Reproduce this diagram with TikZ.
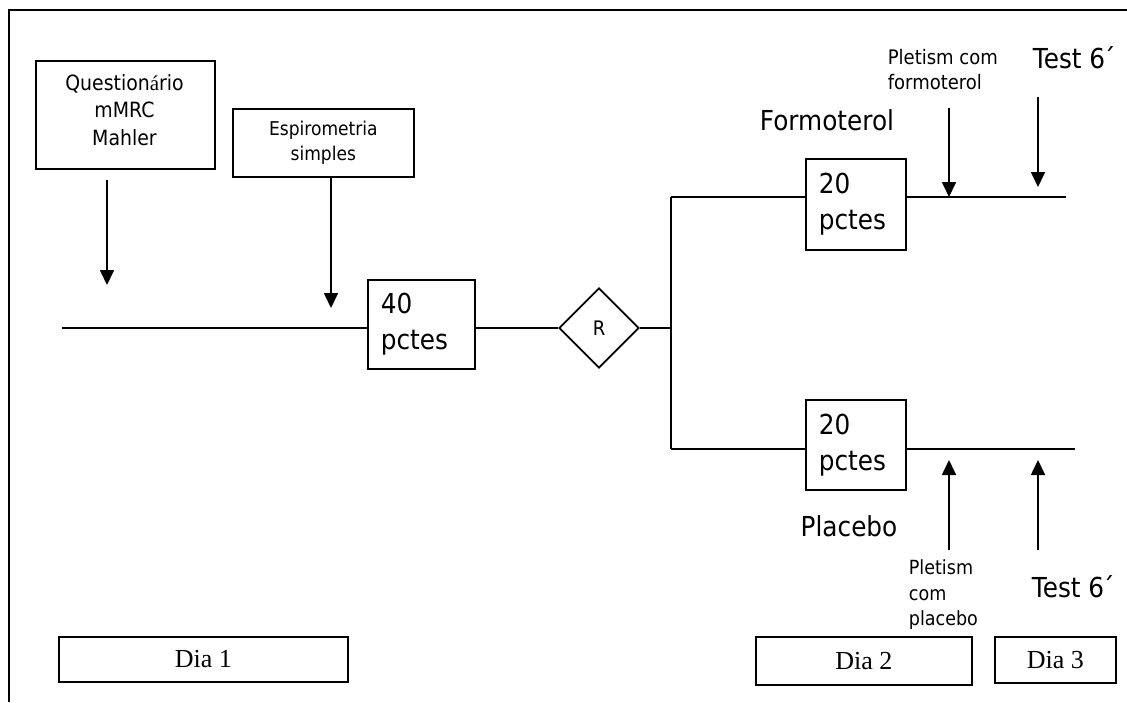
\documentclass[tikz,border=0pt]{standalone}
\usepackage{fontspec}
\setmainfont{DejaVu Sans}[FakeStretch=0.9]
\newfontfamily\timesf{Liberation Serif}
\usetikzlibrary{shapes.geometric,arrows.meta}
\begin{document}
\begin{tikzpicture}[x=1pt,y=-1pt,line width=1.7pt,
  bigtxt/.style={font=\fontsize{27.5}{36}\selectfont},
  pbox/.style={draw,rectangle,anchor=north west,inner xsep=13pt,inner ysep=0pt,align=left,bigtxt},
  tbox/.style={draw,rectangle,anchor=north west,inner sep=0pt,align=center},
  diabox/.style={draw,rectangle,anchor=north west,inner sep=0pt,line width=1.6pt,font=\timesf\fontsize{26}{30}\selectfont},
  smalltxt/.style={font=\fontsize{20}{25}\selectfont,align=left,inner sep=0pt},
  arr/.style={-{Triangle[length=15pt,width=14pt]}},
  lbl/.style={inner sep=0pt}]
\useasboundingbox (0,0) rectangle (1127,702);
% frame
\coordinate (fr1) at (9,702);
\coordinate (fr2) at (9,10);
\coordinate (fr3) at (1127,10);
\draw (fr1) -- (fr2) -- (fr3);

% top-left boxes
\node[tbox,minimum width=179pt,minimum height=108pt] (q) at (35,60) {};
\node[lbl,align=center,font=\fontsize{21}{27.5}\selectfont] (qt) at (124.5,110)
  {Question{\timesf á}rio\\mMRC\\Mahler};
\node[tbox,minimum width=181pt,minimum height=68pt,font=\fontsize{19}{25}\selectfont] (esp) at (232,108)
  {Espirometria\\simples};

% arrows to timeline
\coordinate (a1s) at (107,180);
\coordinate (a1e) at (107,285);
\draw[arr] (a1s) -- (a1e);
\coordinate (a2s) at (331,178);
\coordinate (a2e) at (331,308);
\draw[arr] (a2s) -- (a2e);

% main line
\coordinate (l0) at (62,328);
\node[pbox,text width=81pt,minimum height=89pt] (b40) at (367,279) {40\\pctes};
\node[draw,diamond,aspect=1,inner sep=0pt,minimum width=80pt,minimum height=80pt,font=\fontsize{20}{22}\selectfont] (dia) at (599,328) {R};
\coordinate (split) at (671,328);
\coordinate (vtop) at (671,197);
\coordinate (vbot) at (671,449);
\draw (l0) -- (l0 -| b40.west);
\draw (b40.east |- dia) -- (dia.west);
\draw (dia.east) -- (split);
\draw (vtop) -- (vbot);

% top branch
\node[pbox,text width=74pt,minimum height=91pt] (b20a) at (805,158) {20\\pctes};
\coordinate (tend) at (1066,197);
\draw (vtop) -- (vtop -| b20a.west);
\draw (b20a.east |- vtop) -- (tend);
\node[lbl,bigtxt] (form) at (827,120) {Formoterol};
\node[smalltxt,anchor=west] (plf) at (887,70) {Pletism com\\formoterol};
\node[lbl,bigtxt,anchor=west] (t6a) at (1032,58) {Test 6\kern-2pt´};
\coordinate (p1s) at (949,108);
\coordinate (p1e) at (949,197);
\draw[arr] (p1s) -- (p1e);
\coordinate (t1s) at (1038,97);
\coordinate (t1e) at (1038,187);
\draw[arr] (t1s) -- (t1e);

% bottom branch
\node[pbox,text width=74pt,minimum height=90pt] (b20b) at (805,399) {20\\pctes};
\coordinate (bend) at (1075,449);
\draw (vbot) -- (vbot -| b20b.west);
\draw (b20b.east |- vbot) -- (bend);
\node[lbl,bigtxt] (plac) at (849,526) {Placebo};
\node[smalltxt,anchor=west,font=\fontsize{19.5}{25.5}\selectfont] (plp) at (908,595) {Pletism\\com\\placebo};
\node[lbl,bigtxt,anchor=west] (t6b) at (1031,587) {Test 6\kern-2pt´};
\coordinate (p2s) at (949,550);
\coordinate (p2e) at (949,460);
\draw[arr] (p2s) -- (p2e);
\coordinate (t2s) at (1038,550);
\coordinate (t2e) at (1038,460);
\draw[arr] (t2s) -- (t2e);

% day boxes
\node[diabox,minimum width=289pt,minimum height=45pt] (d1) at (58,636) {Dia 1};
\node[diabox,minimum width=216pt,minimum height=48pt] (d2) at (755,636) {Dia 2};
\node[diabox,minimum width=121pt,minimum height=46pt] (d3) at (994,636) {Dia 3};
\end{tikzpicture}
\end{document}
